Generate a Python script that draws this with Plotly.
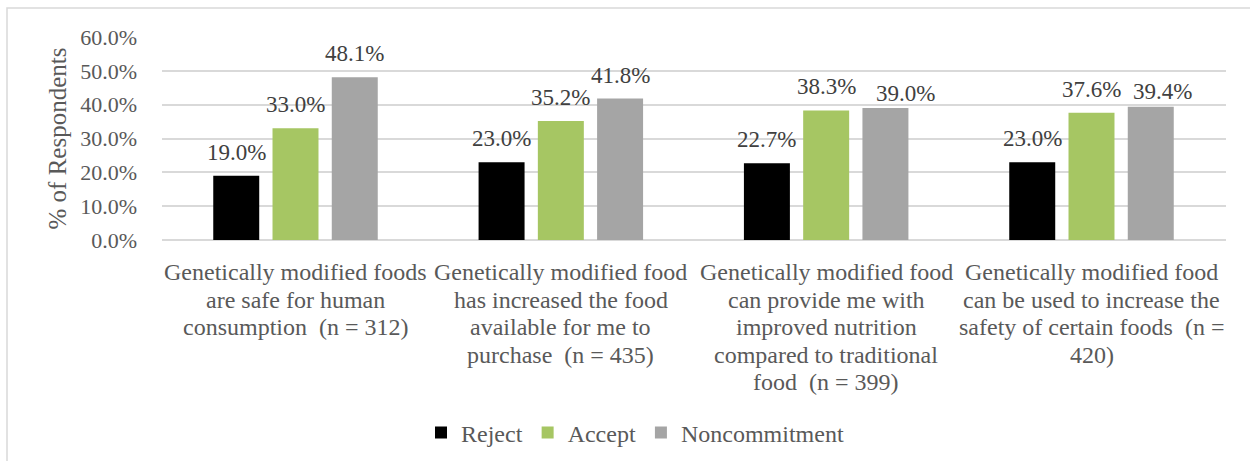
import plotly.graph_objects as go

# Survey statements (x categories); each entry holds the wrapped lines
categories = [
    "GM foods safe",
    "GM food availability",
    "GM food nutrition",
    "GM food safety",
]
category_lines = [
    ["Genetically modified foods", "are safe for human", "consumption  (n = 312)"],
    ["Genetically modified food", "has increased the food", "available for me to", "purchase  (n = 435)"],
    ["Genetically modified food", "can provide me with", "improved nutrition",
     "compared to traditional", "food  (n = 399)"],
    ["Genetically modified food", "can be used to increase the", "safety of certain foods  (n =", "420)"],
]

# Share of respondents (%) per response group
reject = [19.0, 23.0, 22.7, 23.0]
accept = [33.0, 35.2, 38.3, 37.6]
noncommitment = [48.1, 41.8, 39.0, 39.4]

y_ticks = [0, 10, 20, 30, 40, 50, 60]
y_tick_labels = ["0.0%", "10.0%", "20.0%", "30.0%", "40.0%", "50.0%", "60.0%"]

FONT = "'Liberation Serif', 'Times New Roman', serif"
TEXT = "#595959"
LABEL = "#404040"

series = [
    ("Reject", reject, "#000000"),
    ("Accept", accept, "#A6C663"),
    ("Noncommitment", noncommitment, "#A5A5A5"),
]

# Nudges (px) for value labels that would otherwise collide: (series, category) -> (dx, dy)
label_nudge = {(2, 2): (20, -9), (2, 3): (12, -8)}

BARGAP = 0.33
BARGROUPGAP = 0.224

fig = go.Figure()
for name, vals, color in series:
    fig.add_trace(go.Bar(
        name=name,
        x=categories,
        y=vals,
        marker=dict(color=color, line=dict(width=0)),
    ))

W, H = 1250, 461
ML, MR, MT, MB = 162, 24, 37, 221
pw, ph = W - ML - MR, H - MT - MB


def px_x(p):
    return (p - ML) / pw


def px_y(p):
    return (H - MB - p) / ph


annotations = []

# Value labels above each bar
slot = (1 - BARGAP) / len(series)
for k, (name, vals, color) in enumerate(series):
    for i, v in enumerate(vals):
        dx, dy = label_nudge.get((k, i), (0, 0))
        annotations.append(dict(
            x=i + (k - (len(series) - 1) / 2) * slot, xref="x",
            y=v, yref="y",
            text=f"{v:.1f}%", showarrow=False,
            xanchor="center", yanchor="bottom",
            xshift=dx, yshift=9 + dy,
            font=dict(family=FONT, size=23, color=LABEL),
        ))

# Category labels, one text line per annotation for tight line spacing
LINE_PITCH = 27.5
FIRST_LINE = 32
for cat, lines in zip(categories, category_lines):
    for i, line in enumerate(lines):
        annotations.append(dict(
            x=cat, xref="x", y=0, yref="paper",
            text=line, showarrow=False,
            xanchor="center", yanchor="middle",
            yshift=-(FIRST_LINE + i * LINE_PITCH),
            font=dict(family=FONT, size=24, color=TEXT),
        ))

fig.update_layout(
    width=W,
    height=H,
    margin=dict(l=ML, r=MR, t=MT, b=MB, autoexpand=False),
    paper_bgcolor="white",
    plot_bgcolor="white",
    barmode="group",
    bargap=BARGAP,
    bargroupgap=BARGROUPGAP,
    font=dict(family=FONT, color=TEXT),
    showlegend=True,
    legend=dict(
        orientation="h",
        x=px_x(635),
        xanchor="center",
        y=px_y(433),
        yanchor="middle",
        font=dict(family=FONT, size=24, color=TEXT),
        itemclick=False,
        traceorder="normal",
    ),
    xaxis=dict(
        showticklabels=False,
        showgrid=False,
        showline=False,
        ticks="",
    ),
    yaxis=dict(
        range=[0, 60],
        tickmode="array",
        tickvals=y_ticks,
        ticktext=y_tick_labels,
        tickfont=dict(family=FONT, size=22, color=TEXT),
        showgrid=True,
        gridcolor="#D9D9D9",
        gridwidth=1.5,
        zeroline=True,
        zerolinecolor="#D9D9D9",
        zerolinewidth=1.5,
        ticklabelstandoff=24,
        title=dict(text="% of Respondents",
                   font=dict(family=FONT, size=25, color=TEXT),
                   standoff=6),
    ),
    annotations=annotations,
    shapes=[
        dict(type="rect", xref="paper", yref="paper",
             x0=px_x(7), x1=px_x(1262), y0=px_y(475), y1=px_y(8),
             line=dict(color="#D9D9D9", width=1.5), fillcolor="rgba(0,0,0,0)",
             layer="below"),
    ],
)

fig.write_html("out.html")
